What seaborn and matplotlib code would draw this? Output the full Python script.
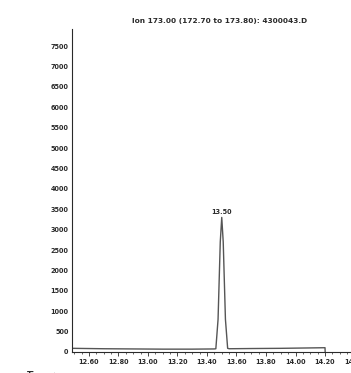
import matplotlib
matplotlib.use("Agg")
import matplotlib.pyplot as plt
import seaborn as sns
import pandas as pd
from matplotlib.ticker import MultipleLocator, FixedLocator

# ---- data ----
time_min = [12.49, 12.70, 12.90, 13.10, 13.30, 13.45, 13.46, 13.475, 13.49, 13.50,
            13.51, 13.525, 13.54, 13.55, 13.70, 13.90, 14.10, 14.20, 14.201]
abundance = [90, 80, 75, 70, 70, 75, 80, 800, 2700, 3300,
             2700, 800, 90, 80, 85, 90, 100, 105, 0]
peak_time = 13.50
peak_height = 3300
peak_label = "13.50"
x_ticks = [12.40, 12.60, 12.80, 13.00, 13.20, 13.40, 13.60, 13.80, 14.00, 14.20, 14.40]
x_tick_labels = ["12.40", "12.60", "12.80", "13.00", "13.20", "13.40", "13.60",
                 "13.80", "14.00", "14.20", "14.40"]
y_ticks = [0, 500, 1000, 1500, 2000, 2500, 3000, 3500, 4000, 4500, 5000,
           5500, 6000, 6500, 7000, 7500]
title = "Ion 173.00 (172.70 to 173.80): 4300043.D"

df = pd.DataFrame({"time": time_min, "abundance": abundance})

sns.set_style("ticks")
plt.rcParams["font.family"] = ["DejaVu Sans"]

W, H = 351, 373
fig = plt.figure(figsize=(W / 100, H / 100), dpi=100)
left_px, right_px, top_px, bottom_px = 72, 365, 29, 352
ax = fig.add_axes([left_px / W, (H - bottom_px) / H,
                   (right_px - left_px) / W, (bottom_px - top_px) / H])

ink = "#2a2a2a"
sns.lineplot(data=df, x="time", y="abundance", ax=ax, color="#555555",
             linewidth=1.0, sort=False, estimator=None)

ax.set_xlim(12.485, 14.471)
ax.set_ylim(0, 7920)
ax.xaxis.set_major_locator(FixedLocator(x_ticks))
ax.set_xticklabels(x_tick_labels)
ax.xaxis.set_minor_locator(MultipleLocator(0.05))
ax.set_yticks(y_ticks)
ax.set_yticklabels([str(v) for v in y_ticks])

fs = 4.7
ax.tick_params(axis="x", which="major", length=3, width=0.6, color=ink,
               labelsize=fs, pad=2, labelcolor=ink)
ax.tick_params(axis="x", which="minor", length=1.5, width=0.5, color=ink)
ax.tick_params(axis="y", length=0, labelsize=fs, pad=2.5, labelcolor=ink)
for lab in ax.get_xticklabels() + ax.get_yticklabels():
    lab.set_fontweight("bold")

for s in ["top", "right"]:
    ax.spines[s].set_visible(False)
ax.spines["left"].set_color(ink)
ax.spines["left"].set_linewidth(0.8)
ax.spines["bottom"].set_color(ink)
ax.spines["bottom"].set_linewidth(0.8)
ax.set_xlabel("")
ax.set_ylabel("")

ax.annotate(peak_label, xy=(peak_time, peak_height), xytext=(0, 2),
            textcoords="offset points", ha="center", va="bottom",
            fontsize=fs, fontweight="bold", color=ink)

fig.text(220 / W, 1 - 21 / H, title, ha="center", va="center",
         fontsize=5.3, fontweight="bold", color=ink)
fig.text(23 / W, 1 - 2.5 / H, "Abundance", ha="left", va="bottom",
         fontsize=5.5, fontweight="bold", color=ink)
fig.text(27 / W, 2.5 / H, "Time-->", ha="left", va="top",
         fontsize=5.5, fontweight="bold", color=ink)

fig.savefig("out.png", dpi=100)
